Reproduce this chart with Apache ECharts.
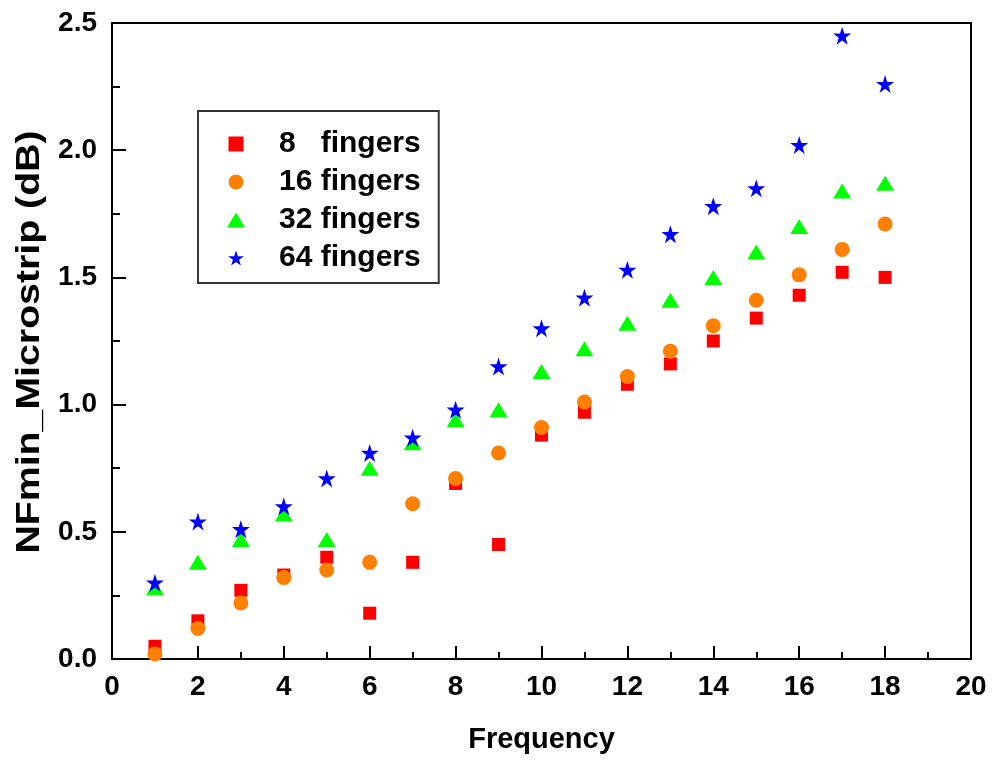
<!DOCTYPE html>
<html>
<head>
<meta charset="utf-8">
<script src="https://cdn.jsdelivr.net/npm/echarts@6/dist/echarts.min.js"></script>
<style>
  html, body { margin: 0; padding: 0; background: #ffffff; }
  #chart { width: 994px; height: 762px; }
</style>
</head>
<body>
<div id="chart"></div>
<script>
// Frequency points (x axis)
const frequency = [1, 2, 3, 4, 5, 6, 7, 8, 9, 10, 11, 12, 13, 14, 15, 16, 17, 18];

// Minimum noise figure (dB) per device width
const nf8 = [0.05, 0.15, 0.27, 0.33, 0.40, 0.18, 0.38, 0.69, 0.45, 0.88, 0.97, 1.08, 1.16, 1.25, 1.34, 1.43, 1.52, 1.50];
const nf16 = [0.02, 0.12, 0.22, 0.32, 0.35, 0.38, 0.61, 0.71, 0.81, 0.91, 1.01, 1.11, 1.21, 1.31, 1.41, 1.51, 1.61, 1.71];
const nf32 = [0.28, 0.38, 0.47, 0.57, 0.47, 0.75, 0.85, 0.94, 0.98, 1.13, 1.22, 1.32, 1.41, 1.50, 1.60, 1.70, 1.84, 1.87];
const nf64 = [0.30, 0.54, 0.51, 0.60, 0.71, 0.81, 0.87, 0.98, 1.15, 1.30, 1.42, 1.53, 1.67, 1.78, 1.85, 2.02, 2.45, 2.26];

const seriesNames = ['8   fingers', '16 fingers', '32 fingers', '64 fingers'];

const FONT = '"Liberation Sans", Arial, Helvetica, sans-serif';
const STAR = 'path://M50,0 L61.2,34.5 L97.6,34.5 L68.2,55.9 L79.4,90.5 L50,69.1 L20.6,90.5 L31.8,55.9 L2.4,34.5 L38.8,34.5 Z';
const SQUARE = 'path://M0,0 L10,0 L10,10 L0,10 Z';
const TRIANGLE = 'path://M9,0 L18,15 L0,15 Z';

function pairs(ys) {
  return frequency.map((x, i) => [x, ys[i]]);
}

const chart = echarts.init(document.getElementById('chart'), null, { renderer: 'canvas' });

const axisText = { color: '#000', fontFamily: FONT, fontWeight: 'bold', fontSize: 28 };

chart.setOption({
  animation: false,
  backgroundColor: '#ffffff',
  grid: {
    left: 112, right: 23, top: 23, bottom: 103,
    show: true, borderColor: '#000', borderWidth: 2, backgroundColor: 'transparent'
  },
  xAxis: {
    type: 'value', min: 0, max: 20, interval: 2,
    name: 'Frequency', nameLocation: 'middle', nameGap: 66,
    nameTextStyle: { color: '#000', fontFamily: FONT, fontWeight: 'bold', fontSize: 29 },
    axisLine: { show: true, lineStyle: { color: '#000', width: 2 } },
    axisTick: { show: true, inside: true, length: 13, lineStyle: { color: '#000', width: 2 } },
    minorTick: { show: true, splitNumber: 2, length: 7, lineStyle: { color: '#000', width: 2 } },
    splitLine: { show: false },
    axisLabel: Object.assign({ margin: 14 }, axisText)
  },
  yAxis: {
    type: 'value', min: 0, max: 2.5, interval: 0.5,
    axisLine: { show: true, lineStyle: { color: '#000', width: 2 } },
    axisTick: { show: true, inside: true, length: 14, lineStyle: { color: '#000', width: 2 } },
    minorTick: { show: true, splitNumber: 2, length: 8, lineStyle: { color: '#000', width: 2 } },
    splitLine: { show: false },
    axisLabel: Object.assign({ margin: 15, formatter: v => v.toFixed(1) }, axisText)
  },
  // Vertical axis title, drawn slightly elongated along its reading direction
  graphic: [{
    type: 'text',
    x: 30, y: 342,
    rotation: Math.PI / 2,
    scaleX: 1.19,
    style: {
      text: 'NFmin_Microstrip (dB)',
      fill: '#000',
      font: 'bold 33px ' + FONT,
      align: 'center',
      verticalAlign: 'middle'
    }
  }],
  legend: {
    orient: 'vertical',
    left: 198, top: 111,
    padding: [18, 18, 10, 29],
    itemWidth: 76, itemHeight: 15, itemGap: 8,
    symbolKeepAspect: true,
    borderColor: '#333', borderWidth: 2,
    backgroundColor: '#fff',
    data: [
      { name: seriesNames[0], icon: SQUARE },
      { name: seriesNames[1], icon: 'circle' },
      { name: seriesNames[2], icon: TRIANGLE },
      { name: seriesNames[3], icon: STAR }
    ],
    textStyle: { color: '#000', fontFamily: FONT, fontWeight: 'bold', fontSize: 30, lineHeight: 28 }
  },
  series: [
    { name: seriesNames[0], type: 'scatter', data: pairs(nf8), symbol: 'rect', symbolSize: 13,
      itemStyle: { color: '#ff0000', opacity: 1 }, z: 2 },
    { name: seriesNames[1], type: 'scatter', data: pairs(nf16), symbol: 'circle', symbolSize: 15,
      itemStyle: { color: '#ff8000', opacity: 1 }, z: 3 },
    { name: seriesNames[2], type: 'scatter', data: pairs(nf32), symbol: 'triangle', symbolSize: [18, 15],
      itemStyle: { color: '#00ff00', opacity: 1 }, z: 4 },
    { name: seriesNames[3], type: 'scatter', data: pairs(nf64), symbol: STAR, symbolSize: 18,
      itemStyle: { color: '#0000ff', opacity: 1 }, z: 5 }
  ]
});
</script>
</body>
</html>
